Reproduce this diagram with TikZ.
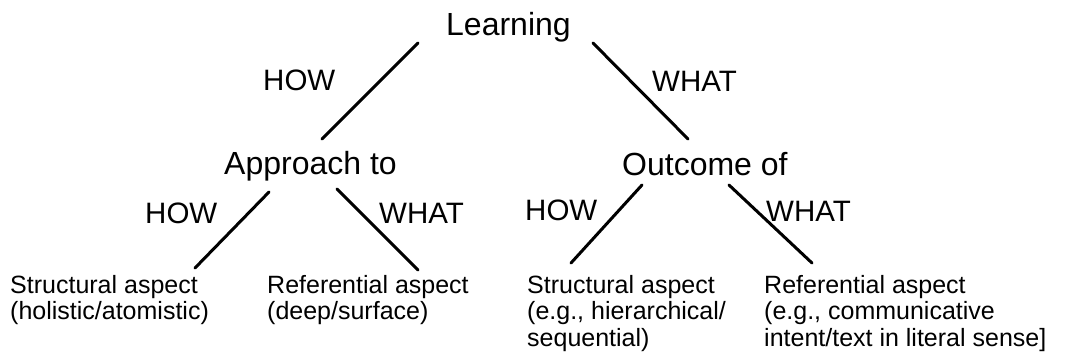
\documentclass[tikz,border=0pt]{standalone}
\usepackage{fontspec}
\setmainfont{Liberation Sans}
\tikzset{
  x=1pt, y=-1pt,
  conn/.style={line width=3pt, line cap=round, black},
  topnode/.style={inner sep=0pt, anchor=base west, font=\fontsize{32}{36}\selectfont},
  lbl/.style={inner sep=0pt, anchor=base west, font=\fontsize{29.5}{34}\selectfont},
  leaf/.style={inner sep=0pt, anchor=base west, align=left, font=\fontsize{25}{26.5}\selectfont},
}
\begin{document}
\begin{tikzpicture}
\useasboundingbox (0,0) rectangle (1078,362);
% nodes
\node[topnode] (learn) at (446,35) {Learning};
\node[topnode] (appr) at (224,174) {Approach to};
\node[topnode] (outc) at (622,175) {Outcome of};
\node[lbl] (how1) at (263,90) {HOW};
\node[lbl] (what1) at (652,91) {WHAT};
\node[lbl] (how2) at (145,223) {HOW};
\node[lbl] (what2) at (379,223) {WHAT};
\node[lbl] (how3) at (525,220) {HOW};
\node[lbl] (what3) at (766,221) {WHAT};
% multi-line nodes: base anchor is the last line's baseline
\node[leaf] (s1) at (10,319.5) {Structural aspect\\(holistic/atomistic)};
\node[leaf] (r1) at (267,319.5) {Referential aspect\\(deep/surface)};
\node[leaf] (s2) at (527,346) {Structural aspect\\(e.g., hierarchical/\\sequential)};
\node[leaf] (r2) at (764,346) {Referential aspect\\(e.g., communicative\\intent/text in literal sense]};
% connector ends
\coordinate (c1a) at (418,43);  \coordinate (c1b) at (322,139);
\coordinate (c2a) at (593,43);  \coordinate (c2b) at (688,139);
\coordinate (c3a) at (269,192); \coordinate (c3b) at (195,268);
\coordinate (c4a) at (337,189); \coordinate (c4b) at (418,270);
\coordinate (c5a) at (642,185); \coordinate (c5b) at (571,263);
\coordinate (c6a) at (729,185); \coordinate (c6b) at (812,263);
\draw[conn] (c1a) -- (c1b);
\draw[conn] (c2a) -- (c2b);
\draw[conn] (c3a) -- (c3b);
\draw[conn] (c4a) -- (c4b);
\draw[conn] (c5a) -- (c5b);
\draw[conn] (c6a) -- (c6b);
\end{tikzpicture}
\end{document}
